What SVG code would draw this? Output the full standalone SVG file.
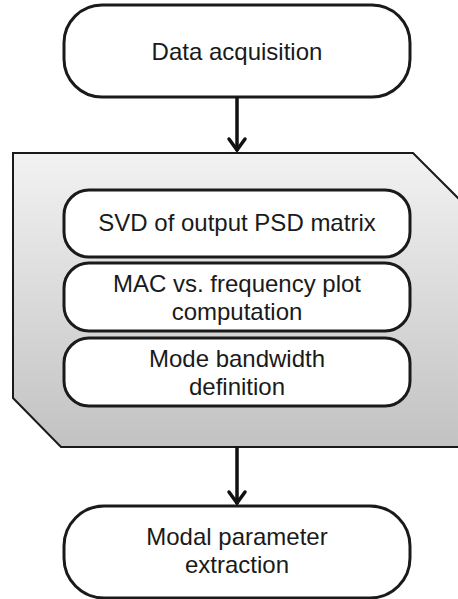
<svg xmlns="http://www.w3.org/2000/svg" width="458" height="599" viewBox="0 0 458 599">
<defs>
<linearGradient id="g" x1="0" y1="0" x2="0" y2="1">
<stop offset="0" stop-color="#f2f2f2"/>
<stop offset="1" stop-color="#c2c2c2"/>
</linearGradient>
<style>
.box{fill:#fff;stroke:#1a1a1a;stroke-width:3}
.t{font-family:"Liberation Sans",Arial,sans-serif;font-size:24px;fill:#1a1a1a;text-anchor:middle}
.c{stroke:#111;stroke-width:3.5;fill:none}
.h{stroke:#111;stroke-width:3.5;fill:none;stroke-linecap:round;stroke-linejoin:miter}
</style>
</defs>
<g id="panel">
<path d="M13,153 L413,153 L460,200 L460,447 L61,447 L13,398 Z" fill="url(#g)" stroke="#1a1a1a" stroke-width="2"/>
</g>
<g id="data-acquisition">
<rect class="box" x="64" y="5" width="346" height="92" rx="38"/>
<text class="t" x="237" y="60">Data acquisition</text>
</g>
<g id="svd">
<rect class="box" x="64" y="190" width="346" height="67" rx="25"/>
<text class="t" x="237" y="231">SVD of output PSD matrix</text>
</g>
<g id="mac">
<rect class="box" x="64" y="263" width="346" height="68" rx="25"/>
<text class="t" x="237" y="292">MAC vs. frequency plot</text>
<text class="t" x="237" y="320">computation</text>
</g>
<g id="mode">
<rect class="box" x="64" y="338" width="346" height="68" rx="25"/>
<text class="t" x="237" y="367">Mode bandwidth</text>
<text class="t" x="237" y="395">definition</text>
</g>
<g id="modal">
<rect class="box" x="64" y="506" width="346" height="92" rx="40"/>
<text class="t" x="237" y="545">Modal parameter</text>
<text class="t" x="237" y="573">extraction</text>
</g>
<g id="connectors">
<line class="c" x1="237" y1="97" x2="237" y2="151"/>
<polyline class="h" points="229,139 237,150 245,139"/>
<line class="c" x1="237" y1="447" x2="237" y2="504"/>
<polyline class="h" points="229,492 237,503 245,492"/>
</g>
</svg>
